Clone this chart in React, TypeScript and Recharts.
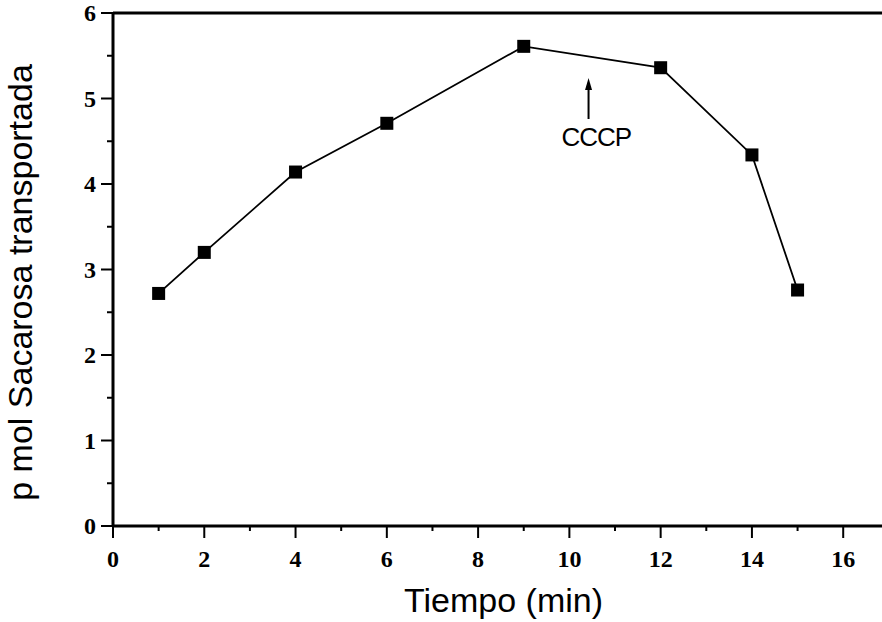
import React from 'react';
import { LineChart, Line, XAxis, YAxis, ReferenceLine, ReferenceDot, Label } from 'recharts';

// Sucrose transported over time (CCCP added at ~10.4 min)
const minutes = [1, 2, 4, 6, 9, 12, 14, 15];
const sucrose = [2.72, 3.2, 4.14, 4.71, 5.61, 5.36, 4.34, 2.76];

const xTicks = [0, 1, 2, 3, 4, 5, 6, 7, 8, 9, 10, 11, 12, 13, 14, 15, 16];
const yTicks = [0, 0.5, 1, 1.5, 2, 2.5, 3, 3.5, 4, 4.5, 5, 5.5, 6];
const xLabelled = [0, 2, 4, 6, 8, 10, 12, 14, 16];
const yLabelled = [0, 1, 2, 3, 4, 5, 6];

const cccpTime = 10.42;
const cccpArrowFrom = 4.76;
const cccpArrowTo = 5.24;
const cccpText = 'CCCP';
const cccpTextAt = { x: 10.59, y: 4.55 };

const xTitle = 'Tiempo (min)';
const yTitle = 'p mol Sacarosa transportada';

const data = minutes.map((t, i) => ({ t, v: sucrose[i] }));

const SERIF = '"Liberation Serif", "Times New Roman", serif';
const SANS = '"Liberation Sans", Arial, sans-serif';

const tickText: React.CSSProperties = {
  fontFamily: SERIF,
  fontWeight: 'bold',
  fontSize: '24px',
  fill: '#000',
};

const XTick = (props: any) => {
  const { x, y, payload } = props;
  const major = xLabelled.includes(payload.value);
  return (
    <g>
      <line x1={x} x2={x} y1={y} y2={y + (major ? 12 : 5)} stroke="#000" strokeWidth={2} />
      {major && (
        <text x={x} y={y + 41} textAnchor="middle" style={tickText}>
          {payload.value}
        </text>
      )}
    </g>
  );
};

const YTick = (props: any) => {
  const { x, y, payload } = props;
  const major = yLabelled.includes(payload.value);
  return (
    <g>
      <line x1={x} x2={x - (major ? 12 : 6)} y1={y} y2={y} stroke="#000" strokeWidth={2} />
      {major && (
        <text x={x - 17} y={y + 8} textAnchor="end" style={tickText}>
          {payload.value}
        </text>
      )}
    </g>
  );
};

const SquareDot = (props: any) => {
  const { cx, cy } = props;
  if (cx == null || cy == null) return null;
  return <rect x={cx - 6.5} y={cy - 6.5} width={13} height={13} fill="#000" />;
};

const ArrowHead = (props: any) => {
  const { cx, cy } = props;
  return <path d={`M${cx},${cy} L${cx - 3.5},${cy + 12} L${cx + 3.5},${cy + 12} Z`} fill="#000" />;
};

const CccpLabel = (props: any) => {
  const { cx, cy } = props;
  return (
    <text
      x={cx}
      y={cy}
      textAnchor="middle"
      dominantBaseline="central"
      style={{ fontFamily: SANS, fontSize: '26px', letterSpacing: '-1px', fill: '#000' }}
    >
      {cccpText}
    </text>
  );
};

const XTitle = (props: any) => {
  const vb = props.viewBox;
  return (
    <text x={vb.x + vb.width / 2 + 6} y={612} textAnchor="middle" style={{ fontFamily: SANS, fontSize: '34px', fill: '#000' }}>
      {xTitle}
    </text>
  );
};

const YTitle = (props: any) => {
  const vb = props.viewBox;
  const cx = 32;
  const cy = vb.y + vb.height / 2 + 13;
  return (
    <text
      x={cx}
      y={cy}
      transform={`rotate(-90 ${cx} ${cy})`}
      textAnchor="middle"
      style={{ fontFamily: SANS, fontSize: '34px', fill: '#000' }}
    >
      {yTitle}
    </text>
  );
};

export default function App() {
  return (
    <div style={{ position: 'absolute', left: 0, top: 0, width: 882, height: 622, background: '#fff' }}>
      <LineChart width={882} height={622} data={data} margin={{ top: 13, right: 0, bottom: 56, left: 53 }}>
        <XAxis
          dataKey="t"
          type="number"
          domain={[0, 16.85]}
          allowDataOverflow
          ticks={xTicks}
          interval={0}
          tickSize={0}
          tickMargin={0}
          tickLine={false}
          tick={<XTick />}
          height={40}
          axisLine={{ stroke: '#000', strokeWidth: 3 }}
        >
          <Label content={<XTitle />} />
        </XAxis>
        <YAxis
          type="number"
          domain={[0, 6]}
          ticks={yTicks}
          interval={0}
          tickSize={0}
          tickMargin={0}
          tickLine={false}
          tick={<YTick />}
          width={60}
          axisLine={{ stroke: '#000', strokeWidth: 3 }}
        >
          <Label content={<YTitle />} />
        </YAxis>
        <ReferenceLine y={6} stroke="#000" strokeWidth={3} />
        <ReferenceLine
          segment={[
            { x: cccpTime, y: cccpArrowFrom },
            { x: cccpTime, y: cccpArrowTo - 0.1 },
          ]}
          stroke="#000"
          strokeWidth={2}
        />
        <ReferenceDot x={cccpTime} y={cccpArrowTo} shape={<ArrowHead />} />
        <ReferenceDot x={cccpTextAt.x} y={cccpTextAt.y} shape={<CccpLabel />} />
        <Line
          dataKey="v"
          stroke="#000"
          strokeWidth={1.8}
          dot={<SquareDot />}
          activeDot={false}
          isAnimationActive={false}
        />
      </LineChart>
    </div>
  );
}
